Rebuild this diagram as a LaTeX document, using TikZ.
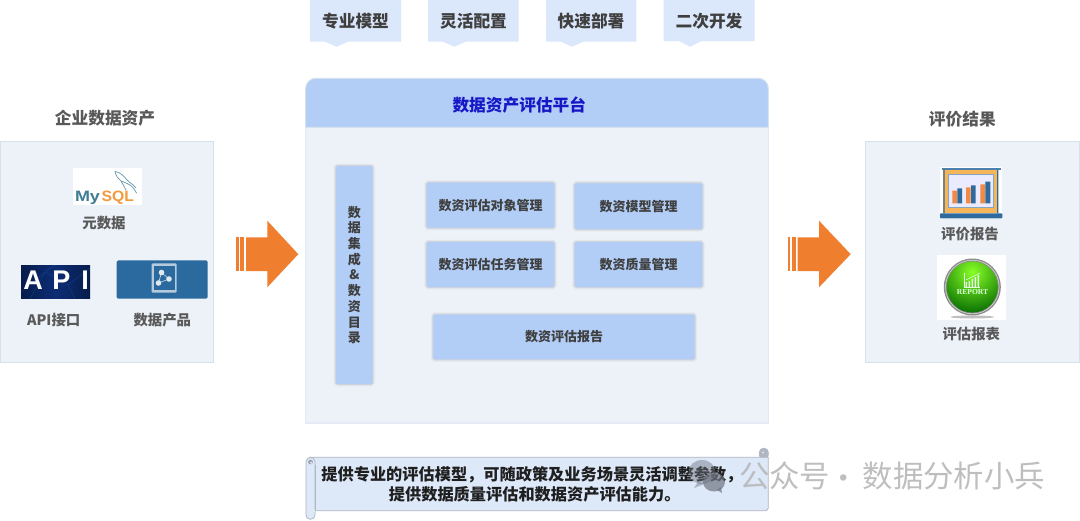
\documentclass[tikz,border=0pt]{standalone}
\usepackage{graphicx}
\usepackage{fontspec}
\setmainfont{Noto Sans CJK SC}
\newfontfamily\latinb{Liberation Sans}
\newfontfamily\serifb{Liberation Serif}
\newcommand{\fwcomma}{\char"FF0C\relax}
\definecolor{panelfill}{HTML}{EDF2F9}
\definecolor{panelline}{HTML}{D6E1EE}
\definecolor{headfill}{HTML}{B2CEF7}
\definecolor{tagfill}{HTML}{DBE7FB}
\definecolor{orangearrow}{HTML}{EF7E2F}
\definecolor{scrollfill}{HTML}{DDE8F9}
\definecolor{scrollline}{HTML}{B0B7C1}
\definecolor{greytext}{HTML}{595959}
\definecolor{boxtext}{HTML}{3F3F3F}
\definecolor{titleblue}{HTML}{1717C6}
\definecolor{navy}{HTML}{0C2C74}
\definecolor{navydark}{HTML}{071C4C}
\definecolor{prodblue}{HTML}{2A6A9E}
\definecolor{chartblue}{HTML}{2F6A9E}
\definecolor{chartorange}{HTML}{F7B55A}
\definecolor{mysqlteal}{HTML}{3E7E93}
\definecolor{mysqlorange}{HTML}{F29A3E}
\definecolor{wmgrey}{HTML}{B8B8B8}
\definecolor{bubblegrey}{HTML}{6E7480}
\tikzset{
  x=1pt,y=-1pt,
  every node/.style={inner sep=0pt,outer sep=0pt,font=\bfseries},
  panelbox/.style={draw=panelline,line width=1.2pt,fill=panelfill,anchor=north west},
  softbox/.style={fill=headfill,rounded corners=1.5pt,text=boxtext,font=\fontsize{13}{15.7}\selectfont\bfseries,align=center,
    preaction={draw=black,opacity=.025,line width=5pt},
    preaction={draw=black,opacity=.04,line width=3.4pt},
    preaction={draw=black,opacity=.06,line width=1.8pt}},
  tagshape/.style={fill=tagfill},
  tagtext/.style={text=boxtext,font=\fontsize{16.7}{20}\selectfont\bfseries},
  paneltitle/.style={text=greytext,font=\fontsize{16.7}{20}\selectfont\bfseries},
  caption/.style={text=greytext,font=\fontsize{14.4}{17}\selectfont\bfseries},
  bigarrow/.style={fill=orangearrow},
  scrolltext/.style={text=black!88,font=\fontsize{16.2}{20}\selectfont\bfseries},
  wmtext/.style={text=wmgrey,opacity=.9,font=\fontsize{30.4}{32}\selectfont\mdseries},
}
\begin{document}
\begin{tikzpicture}
\useasboundingbox (0,0) rectangle (1080,520);
\fill[white] (0,0) rectangle (1080,520);

% top tags
\fill[tagshape] (310,0) -- (401,0) -- (401,41.7) -- (348,41.7) -- (336.5,46.7) -- (325,41.7) -- (310,41.7) -- cycle;
\fill[tagshape] (428,0) -- (518.7,0) -- (518.7,41.7) -- (466,41.7) -- (454.3,46.7) -- (443,41.7) -- (428,41.7) -- cycle;
\fill[tagshape] (546,0) -- (636.3,0) -- (636.3,41.7) -- (583.5,41.7) -- (572,46.7) -- (561,41.7) -- (546,41.7) -- cycle;
\fill[tagshape] (663.7,0) -- (754.7,0) -- (754.7,41) -- (701.5,41) -- (690.3,46.7) -- (679,41) -- (663.7,41) -- cycle;
\node[tagtext] (t1) at (355.5,21) {专业模型};
\node[tagtext] (t2) at (473.5,21) {灵活配置};
\node[tagtext] (t3) at (591,21) {快速部署};
\node[tagtext] (t4) at (709,21) {二次开发};

% left panel
\node[panelbox,minimum width=213,minimum height=221] (leftpanel) at (0.4,141.3) {};
\node[paneltitle] (lefttitle) at (105,118.5) {企业数据资产};
% MySQL logo
\fill[white] (73,168) rectangle (142,205);
\node[anchor=base west,font=\latinb\bfseries\fontsize{15}{15}\selectfont,text=mysqlteal] (mysqlmy) at (75,201) {\scalebox{1.2}[1]{My}};
\node[anchor=base west,font=\latinb\bfseries\fontsize{15}{15}\selectfont,text=mysqlorange] (mysqlsql) at (101.7,201) {\scalebox{1.05}[1]{SQL}};
\draw[mysqlteal!80,line width=.7pt,line cap=round,line join=round] (115,171.5) .. controls (116,176) and (118,179) .. (121,181) .. controls (126,183) and (132,185) .. (134,189) -- (136.5,193) (115,171.5) .. controls (120,172) and (124,176) .. (127,180) .. controls (130,183) and (134,185) .. (136,188) (121,181) .. controls (123,185) and (125,187) .. (126,190);
\node[caption] (metadata) at (104,223.3) {元数据};
% API image
\shade[left color=navydark,right color=navydark,middle color=navy] (21,265.3) rectangle (90,298.7);
\draw[cyan!60!blue,opacity=.4,line width=.3pt] (21,292) -- (45,272) -- (68,285) -- (90,268) (45,272) -- (55,265.3) (68,285) -- (75,298.7) (30,298.7) -- (45,272);
\node[text=white,font=\latinb\bfseries\fontsize{27}{27}\selectfont] (apia) at (33,280.5) {A};
\node[text=white,font=\latinb\bfseries\fontsize{27}{27}\selectfont] (apip) at (61.5,280.5) {P};
\node[text=white,font=\latinb\bfseries\fontsize{27}{27}\selectfont] (apii) at (85,280.5) {I};
\node[caption] (apilabel) at (53.7,320) {API接口};
% data product image
\fill[prodblue,rounded corners=1.5pt] (116.7,260.3) rectangle (207.7,298.7);
\fill[prodblue!35!white,rounded corners=1pt] (151.7,263.3) rectangle (176.7,292.7);
\fill[prodblue] (153.5,266) rectangle (174.9,290);
\draw[white!85!prodblue,line width=.5pt] (161.5,272.5) -- (158.5,283) (161.5,272.5) -- (169,279) (158.5,283) -- (169,279);
\fill[white!85!prodblue] (161.5,272.5) circle (2.8) (158.5,283) circle (2.8) (169,279) circle (2.8);
\node[caption] (prodlabel) at (162.3,320) {数据产品};

% left arrow
\fill[bigarrow] (236,237.3) rectangle (238.7,271);
\fill[bigarrow] (240,237.3) rectangle (244,271);
\fill[bigarrow] (246,237.3) -- (267.3,237.3) -- (267.3,220.7) -- (298.3,254.2) -- (267.3,287.3) -- (267.3,271) -- (246,271) -- cycle;

% platform
\draw[panelfill!60!panelline,fill=panelfill,line width=1.2pt] (305.7,123) rectangle (768.3,423);
\draw[panelline,fill=headfill,line width=1pt,rounded corners=10pt] (305.7,127.3) [sharp corners] -- (305.7,110) [rounded corners=10pt] -- (305.7,78.3) -- (768.3,78.3) -- (768.3,110) [sharp corners] -- (768.3,127.3) -- cycle;
\node[text=titleblue,font=\fontsize{16.7}{20}\selectfont\bfseries] (platform) at (519.3,105.3) {数据资产评估平台};
\node[softbox,minimum width=36.5,minimum height=218] (catalog) at (354.3,275) {数\\据\\集\\成\\\&\\数\\资\\目\\录};
\node[softbox,minimum width=127.6,minimum height=45] (b1) at (490.5,205.2) {数资评估对象管理};
\node[softbox,minimum width=127.6,minimum height=45.7] (b2) at (638.5,206.2) {数资模型管理};
\node[softbox,minimum width=127.6,minimum height=45] (b3) at (490.5,264.5) {数资评估任务管理};
\node[softbox,minimum width=127.6,minimum height=45] (b4) at (638.5,264.5) {数资质量管理};
\node[softbox,minimum width=261.4,minimum height=44.6] (b5) at (564,337) {数资评估报告};

% right arrow
\fill[bigarrow] (787.7,237.3) rectangle (790.2,271);
\fill[bigarrow] (791.7,237.3) rectangle (795.7,271);
\fill[bigarrow] (797.7,237.3) -- (819,237.3) -- (819,220.7) -- (850.7,254.2) -- (819,287.3) -- (819,271) -- (797.7,271) -- cycle;

% right panel
\node[panelbox,minimum width=214,minimum height=221] (rightpanel) at (865.3,141.3) {};
\node[paneltitle] (righttitle) at (962.3,119) {评价结果};
% chart icon
\fill[white] (940,166.7) rectangle (1002.3,219.3);
\fill[chartorange] (943.3,169.3) rectangle (998.3,213.3);
\fill[chartblue] (943.3,169.3) rectangle (944.6,213.3) (997,169.3) rectangle (998.3,213.3);
\fill[chartblue!85!white] (941.7,167.7) rectangle (1000.7,169.6);
\draw[chartblue!60!white,fill=blue!8!white,line width=.6pt] (948.3,174.3) rectangle (993.3,207.7);
\fill[chartblue,rounded corners=.8pt] (940,213.3) rectangle (1002.3,218.4);
\fill[orangearrow!90!white] (952.3,190.7) rectangle (957,203.3) (966,187.3) rectangle (970.7,203.3) (980.3,184.3) rectangle (985,203.3);
\fill[chartblue] (957.3,188.3) rectangle (962,203.3) (971,185.3) rectangle (975.7,203.3) (985.3,181.7) rectangle (990.3,203.3);
\node[caption] (reportlabel) at (970,234) {评价报告};
% report ball
\fill[white] (936.7,255) rectangle (1006.3,320);
\fill[black,opacity=.25] (972.3,317) ellipse (22 and 1.5);
\fill[gray!90] (972.3,287) circle (28.5);
\draw[gray!25!white,line width=.5pt] (972.3,287) circle (26.8);
\begin{scope}
\clip (972.3,287) circle (25.6);
\shade[inner color=green!55!yellow!85!white,outer color=green!40!black] (972.3,272) circle (44);
\end{scope}
\fill[white!90!green] (965.5,287) rectangle (967,282) (968.5,287) rectangle (970,281) (971.5,287) rectangle (973,279) (974.5,287) rectangle (976,277) (977.5,287) rectangle (979,275);
\draw[white!90!green,line width=.5pt] (964,272.5) -- (964,287) -- (980,287);
\draw[white!90!green,line width=.5pt] (966,280) -- (972,277) -- (980,273);
\node[text=white!85!green,font=\serifb\bfseries\fontsize{7.6}{8}\selectfont] (reporttext) at (972.5,292.5) {REPORT};
\node[caption] (formlabel) at (971.3,334.3) {评估报表};

% scroll
\draw[scrollline,fill=scrollline,line width=.8pt,rounded corners=4pt] (759.3,459) -- (759.3,448.3) -- (768.3,448.3) -- (768.3,459) -- cycle;
\fill[scrollfill] (763,452.5) circle (1.2);
\draw[scrollline,fill=scrollfill,line width=.8pt,rounded corners=3pt] (310,457.3) -- (759.3,457.3) [sharp corners] -- (768.3,457.3) [rounded corners=3pt] -- (768.3,510.7) -- (310,510.7) [sharp corners] -- cycle;
\draw[scrollline,fill=scrollfill,line width=.8pt,rounded corners=4.4pt] (306,457.3) rectangle (315,519.3);
\fill[scrollline!90!black] (310.5,462) circle (2.4);
\fill[scrollfill] (311.2,462.7) circle (1.1);
\fill[scrollfill] (311.5,509) rectangle (314.6,512);
\draw[scrollline,line width=.8pt] (315,465) -- (315,510.7);
\node[scrolltext] (s1) at (532,474.5) {提供专业的评估模型\fwcomma 可随政策及业务场景灵活调整参数\fwcomma};
\node[scrolltext] (s2) at (534.7,494) {提供数据质量评估和数据资产评估能力。};

% watermark
\fill[bubblegrey,opacity=.45] (702,472) ellipse (13.5 and 12);
\fill[bubblegrey,opacity=.45] (698,482) -- (694,488) -- (704,484) -- cycle;
\fill[bubblegrey,opacity=.7] (714,482) ellipse (11 and 9.5);
\fill[bubblegrey,opacity=.7] (717,490) -- (722,493) -- (721,487) -- cycle;
\node[anchor=west,wmtext] (wma) at (739,476) {公众号};
\node[wmtext] (wmdot) at (843.5,482) {·};
\node[anchor=east,wmtext] (wmb) at (1045,476) {数据分析小兵};
\end{tikzpicture}
\end{document}
